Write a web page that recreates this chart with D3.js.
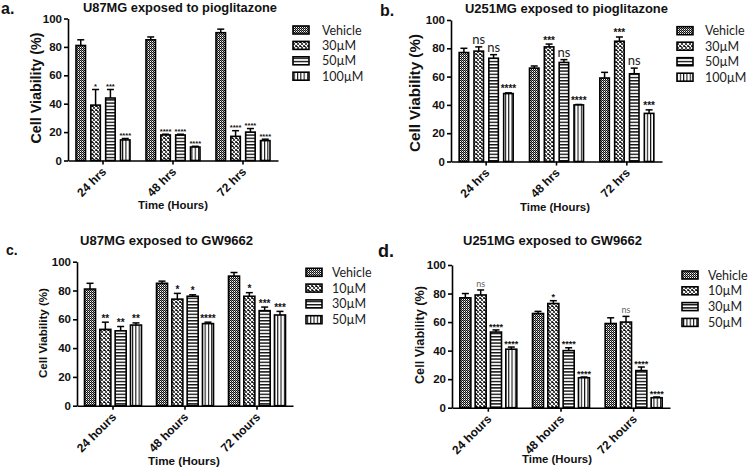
<!DOCTYPE html>
<html><head><meta charset="utf-8">
<script src="https://cdn.jsdelivr.net/npm/d3@7"></script>
<style>
html,body{margin:0;padding:0;background:#fff;}
svg{display:block;}
.bold{font-family:"Liberation Sans",Arial,sans-serif;font-weight:bold;fill:#111;}
.leg{font-family:Lato,"Open Sans",sans-serif;fill:#222;}
</style></head>
<body>
<svg id="chart" width="750" height="471"></svg>
<script>
// ---------- DATA ----------
const timesPio = ["24 hrs", "48 hrs", "72 hrs"];
const timesGW = ["24 hours", "48 hours", "72 hours"];
const seriesPio = ["Vehicle", "30µM", "50µM", "100µM"];
const seriesGW = ["Vehicle", "10µM", "30µM", "50µM"];
const yTicks = [0, 20, 40, 60, 80, 100];

// panel a: U87MG + pioglitazone (rows = time, cols = series)
const aMeans = [[81, 39, 44, 14.5], [85, 18, 18, 9.5], [90, 17, 20, 14]];
const aErr   = [[4, 11, 6, 1], [2, 0.5, 0.5, 0.5], [2.5, 4, 2.5, 1]];
const aSig   = [["", "*", "***", "****"], ["", "****", "****", "****"], ["", "****", "****", "****"]];

// panel b: U251MG + pioglitazone
const bMeans = [[77, 78, 73, 48], [66, 81, 70, 40], [59, 85, 62, 34]];
const bErr   = [[3, 3, 2.5, 0.5], [1.5, 2, 2, 0.3], [4, 3, 4, 2.5]];
const bSig   = [["", "ns", "ns", "****"], ["", "***", "ns", "****"], ["", "***", "ns", "***"]];

// panel c: U87MG + GW9662
const cMeans = [[81, 53, 52, 56], [85, 74, 76, 57], [90, 76, 66, 63]];
const cErr   = [[4, 5, 3, 1.5], [1.5, 4, 1, 1], [2.5, 2.5, 2.5, 2.5]];
const cSig   = [["", "**", "**", "**"], ["", "*", "*", "****"], ["", "*", "***", "***"]];

// panel d: U251MG + GW9662
const dMeans = [[77, 79, 53, 41], [66, 73, 40, 21], [59, 60, 26, 7]];
const dErr   = [[3, 3.5, 1.5, 1.5], [1.5, 2, 2, 0.5], [4, 4, 2.5, 0.5]];
const dSig   = [["", "ns", "****", "****"], ["", "*", "****", "****"], ["", "ns", "****", "****"]];

// ---------- DRAW ----------
const svg = d3.select("#chart");
svg.append("rect").attr("width", 750).attr("height", 471).attr("fill", "#fff");

const defs = svg.append("defs");
function pat(id, w, h, bg, draw) {
  const p = defs.append("pattern").attr("id", id).attr("patternUnits", "userSpaceOnUse")
    .attr("width", w).attr("height", h);
  p.append("rect").attr("width", w).attr("height", h).attr("fill", bg);
  draw(p);
}
pat("p0", 2, 2, "#fff", p => {
  p.append("rect").attr("width", 1).attr("height", 1).attr("fill", "#111");
  p.append("rect").attr("x", 1).attr("y", 1).attr("width", 1).attr("height", 1).attr("fill", "#111");
  p.append("rect").attr("x", 1).attr("y", 0).attr("width", 1).attr("height", 1).attr("fill", "#888");
});
pat("p1", 4, 4, "#000", p => {
  p.append("path").attr("d", "M0,0L4,4M4,0L0,4").attr("stroke", "#fff").attr("stroke-width", 1.1);
});
pat("p2", 4, 3.2, "#fff", p => {
  p.append("rect").attr("width", 4).attr("height", 1.4).attr("fill", "#111");
});
pat("p3", 3.3, 4, "#fff", p => {
  p.append("rect").attr("width", 1.1).attr("height", 4).attr("fill", "#111");
});
const fills = ["url(#p0)", "url(#p1)", "url(#p2)", "url(#p3)"];

const panels = [
  { means: aMeans, err: aErr, sig: aSig, cats: timesPio, series: seriesPio,
    title: "U87MG exposed to pioglitazone", letter: "a.",
    x0: 68, x1: 278, yTop: 18.5, yBot: 160.5, gw: 54, pad: 0.36,
    titleX: 180, titleY: 11.5, titleW: 194, letterX: 1, letterY: 14, letterSize: 16,
    ylabX: 41, ylabY: 88, ylabW: 111, xlabX: 173, xlabY: 209, xlabW: 70,
    legX: 293, legTX: 322, legY: 30, legStep: 15.4, starSize: 7.5, nsSize: 12, nsColor: "#222" },
  { means: bMeans, err: bErr, sig: bSig, cats: timesPio, series: seriesPio,
    title: "U251MG exposed to pioglitazone", letter: "b.",
    x0: 451, x1: 662, yTop: 20, yBot: 161.5, gw: 54, pad: 0.36,
    titleX: 566.5, titleY: 12.5, titleW: 203, letterX: 380, letterY: 16, letterSize: 16,
    ylabX: 420, ylabY: 93, ylabW: 118, xlabX: 555, xlabY: 211, xlabW: 70,
    legX: 677, legTX: 705, legY: 30.7, legStep: 15.5, starSize: 10, nsSize: 13, nsColor: "#222" },
  { means: cMeans, err: cErr, sig: cSig, cats: timesGW, series: seriesGW,
    title: "U87MG exposed to GW9662", letter: "c.",
    x0: 77, x1: 293, yTop: 261.7, yBot: 405.7, gw: 57, pad: 0.28,
    titleX: 166.5, titleY: 245, titleW: 173, letterX: 6, letterY: 255, letterSize: 14,
    ylabX: 47, ylabY: 333, ylabW: 90, xlabX: 184, xlabY: 465, xlabW: 72,
    legX: 306, legTX: 332, legY: 272.3, legStep: 15.8, starSize: 10, nsSize: 9, nsColor: "#666" },
  { means: dMeans, err: dErr, sig: dSig, cats: timesGW, series: seriesGW,
    title: "U251MG exposed to GW9662", letter: "d.",
    x0: 452, x1: 670, yTop: 265, yBot: 407.7, gw: 57, pad: 0.28,
    titleX: 552.5, titleY: 245, titleW: 179, letterX: 378, letterY: 257, letterSize: 18,
    ylabX: 424, ylabY: 335, ylabW: 98, xlabX: 557, xlabY: 463, xlabW: 70,
    legX: 682, legTX: 708, legY: 275, legStep: 15.8, starSize: 9, nsSize: 9, nsColor: "#666" }
];

panels.forEach(P => {
  const g = svg.append("g");
  const x = d3.scaleBand().domain(P.cats).range([P.x0, P.x1]).padding(0);
  const xi = d3.scaleBand().domain(P.series).range([-P.gw / 2, P.gw / 2]).paddingInner(P.pad);
  const y = d3.scaleLinear().domain([0, 100]).range([P.yBot, P.yTop]);

  // bars
  P.cats.forEach((cat, ci) => {
    const cx = x(cat) + x.bandwidth() / 2;
    P.series.forEach((s, si) => {
      const v = P.means[ci][si], e = P.err[ci][si];
      const bx = cx + xi(s), bw = xi.bandwidth();
      const top = v + e;
      g.append("line").attr("x1", bx + bw / 2).attr("x2", bx + bw / 2)
        .attr("y1", y(v)).attr("y2", y(top)).attr("stroke", "#000").attr("stroke-width", 1.5);
      g.append("line").attr("x1", bx + bw / 2 - 3.5).attr("x2", bx + bw / 2 + 3.5)
        .attr("y1", y(top)).attr("y2", y(top)).attr("stroke", "#000").attr("stroke-width", 1.5);
      g.append("rect").attr("x", bx).attr("width", bw)
        .attr("y", y(v)).attr("height", y(0) - y(v))
        .attr("fill", fills[si]).attr("stroke", "#000").attr("stroke-width", 1.6);
      const lab = P.sig[ci][si];
      if (lab) {
        const isNs = lab === "ns";
        g.append("text").attr("x", bx + bw / 2).attr("y", y(top) - (isNs ? 3 : -0.5 + (P.starSize * 0.1)))
          .attr("text-anchor", "middle")
          .attr("class", isNs ? "leg" : "bold")
          .style("font-size", (isNs ? P.nsSize : P.starSize) + "px")
          .style("font-weight", isNs ? "normal" : "bold")
          .style("fill", isNs ? P.nsColor : "#111")
          .text(lab);
      }
    });
  });

  // y axis
  const ya = g.append("g").attr("transform", `translate(${P.x0},0)`)
    .call(d3.axisLeft(y).tickValues(yTicks).tickSize(4).tickPadding(2).tickSizeOuter(0));
  ya.select(".domain").attr("stroke-width", 1.6);
  ya.selectAll(".tick line").attr("stroke-width", 1.6);
  ya.selectAll("text").attr("class", "bold").style("font-size", "11.5px");

  // x axis
  const xa = g.append("g").attr("transform", `translate(0,${P.yBot})`)
    .call(d3.axisBottom(x).tickSize(4).tickSizeOuter(0));
  xa.select(".domain").attr("stroke-width", 1.6);
  xa.selectAll(".tick line").attr("stroke-width", 1.6);
  xa.selectAll("text").attr("class", "bold").style("font-size", "12px")
    .attr("text-anchor", "end").attr("dy", null).attr("y", null)
    .attr("transform", "translate(4,12) rotate(-45)");

  // titles
  g.append("text").attr("class", "bold").attr("x", P.titleX).attr("y", P.titleY)
    .attr("text-anchor", "middle").style("font-size", "13px")
    .attr("textLength", P.titleW).attr("lengthAdjust", "spacingAndGlyphs").text(P.title);
  g.append("text").attr("class", "bold").attr("x", P.letterX).attr("y", P.letterY)
    .style("font-size", P.letterSize + "px").text(P.letter);
  g.append("text").attr("class", "bold")
    .attr("transform", `translate(${P.ylabX},${P.ylabY}) rotate(-90)`)
    .attr("text-anchor", "middle").style("font-size", (P.ylabW / 7.8) + "px")
    .attr("textLength", P.ylabW).attr("lengthAdjust", "spacingAndGlyphs").text("Cell Viability (%)");
  g.append("text").attr("class", "bold").attr("x", P.xlabX).attr("y", P.xlabY)
    .attr("text-anchor", "middle").style("font-size", "11.5px")
    .attr("textLength", P.xlabW).attr("lengthAdjust", "spacingAndGlyphs").text("Time (Hours)");

  // legend
  P.series.forEach((s, si) => {
    const ly = P.legY + si * P.legStep;
    g.append("rect").attr("x", P.legX).attr("y", ly - 4).attr("width", 16).attr("height", 8)
      .attr("fill", fills[si]).attr("stroke", "#000").attr("stroke-width", 1.6);
    g.append("text").attr("class", "leg").attr("x", P.legTX).attr("y", ly + 4.5)
      .style("font-size", "12.5px").text(s);
  });
});
</script>
</body></html>
